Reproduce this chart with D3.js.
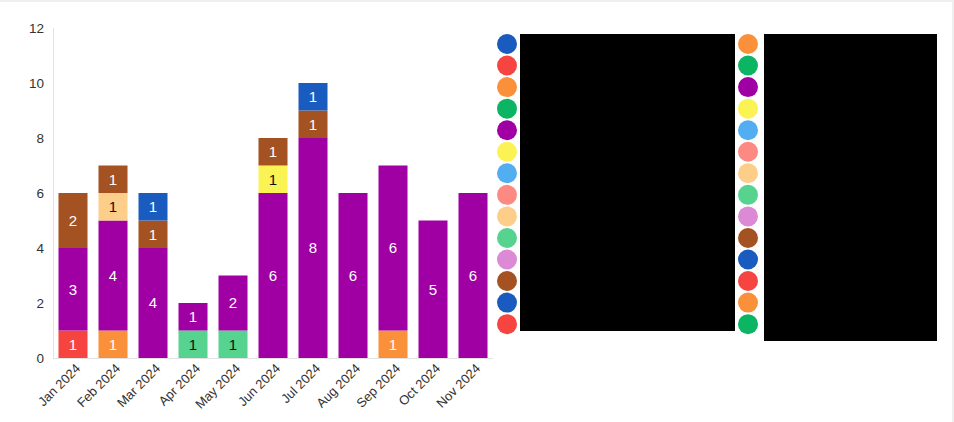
<!DOCTYPE html>
<html><head><meta charset="utf-8">
<script src="https://cdn.jsdelivr.net/npm/d3@7"></script>
<style>body{margin:0;background:#fff;}svg{display:block;font-family:"Liberation Sans",Arial,sans-serif;}</style>
</head><body><svg id="c" width="954" height="422"></svg>
<script>
const months = ["Jan 2024","Feb 2024","Mar 2024","Apr 2024","May 2024","Jun 2024","Jul 2024","Aug 2024","Sep 2024","Oct 2024","Nov 2024"];
const palette = ["#1a5bbf","#f64540","#fb903b","#0cb563","#a000a3","#fbf254","#52adf1","#fc8a82","#fdcd8a","#55d38f","#dc8ad6","#a45221"];
const seriesCount = 28;
const yTicks = [0,2,4,6,8,10,12];
// series index -> values per month (series not listed are all zero)
const s1  = [1,0,0,0,0,0,0,0,0,0,0];
const s2  = [0,1,0,0,0,0,0,0,1,0,0];
const s9  = [0,0,0,1,1,0,0,0,0,0,0];
const s16 = [3,4,4,1,2,6,8,6,6,5,6];
const s17 = [0,0,0,0,0,1,0,0,0,0,0];
const s20 = [0,1,0,0,0,0,0,0,0,0,0];
const s23 = [2,1,1,0,0,1,1,0,0,0,0];
const s24 = [0,0,1,0,0,0,1,0,0,0,0];
const seriesValues = {1:s1,2:s2,9:s9,16:s16,17:s17,20:s20,23:s23,24:s24};
const darkText = new Set(["#fbf254","#fdcd8a","#55d38f"]);

const svg = d3.select("#c");
// frame
svg.append("rect").attr("x",0).attr("y",0).attr("width",954).attr("height",2).attr("fill","#efefef");
svg.append("rect").attr("x",952).attr("y",0).attr("width",2).attr("height",422).attr("fill","#efefef");

const x = d3.scaleBand().domain(months).range([53,493]).paddingInner(0.275).paddingOuter(0.1375);
const y = d3.scaleLinear().domain([0,12]).range([358,28]);

const keys = d3.range(seriesCount);
const rows = months.map((m,i)=>{const r={month:m}; keys.forEach(k=>{r[k]=seriesValues[k]?seriesValues[k][i]:0;}); return r;});
const stacked = d3.stack().keys(keys)(rows);
const color = k => palette[k % palette.length];

// axes
svg.append("line").attr("x1",53.5).attr("x2",53.5).attr("y1",y(12)).attr("y2",y(0)).attr("stroke","#e3e3e3");
svg.append("line").attr("x1",53).attr("x2",493).attr("y1",y(0)+0.5).attr("y2",y(0)+0.5).attr("stroke","#e3e3e3");
svg.append("g").selectAll("text").data(yTicks).join("text")
  .attr("x",44).attr("y",d=>y(d)).attr("dy","0.35em").attr("text-anchor","end")
  .attr("font-size",13.5).attr("fill","#333").text(d=>d);
svg.append("g").selectAll("text").data(months).join("text")
  .attr("transform",d=>`translate(${x(d)+x.bandwidth()/2+5},${366}) rotate(-45)`)
  .attr("text-anchor","end").attr("dy","0.35em").attr("font-size",13).attr("fill","#333").text(d=>d);

// bars
const g = svg.append("g");
stacked.forEach(layer=>{
  const k = layer.key;
  layer.forEach((d,i)=>{
    const v = d[1]-d[0];
    if(!v) return;
    g.append("rect").attr("x",x(months[i])).attr("width",x.bandwidth())
      .attr("y",y(d[1])).attr("height",y(d[0])-y(d[1])).attr("fill",color(k));
    g.append("text").attr("x",x(months[i])+x.bandwidth()/2).attr("y",(y(d[0])+y(d[1]))/2)
      .attr("dy","0.36em").attr("text-anchor","middle").attr("font-size",15)
      .attr("fill",darkText.has(color(k))?"#111":"#fff").text(v);
  });
});

// legend (labels redacted in reference)
const lg = svg.append("g");
keys.forEach(k=>{
  const col = Math.floor(k/14), row = k%14;
  const cx = col===0?507:748;
  lg.append("circle").attr("cx",cx).attr("cy",44+row*21.55).attr("r",10).attr("fill",color(k));
});
lg.append("rect").attr("x",520).attr("y",34).attr("width",215).attr("height",297).attr("fill","#000");
lg.append("rect").attr("x",764).attr("y",34).attr("width",173).attr("height",307).attr("fill","#000");
</script></body></html>
